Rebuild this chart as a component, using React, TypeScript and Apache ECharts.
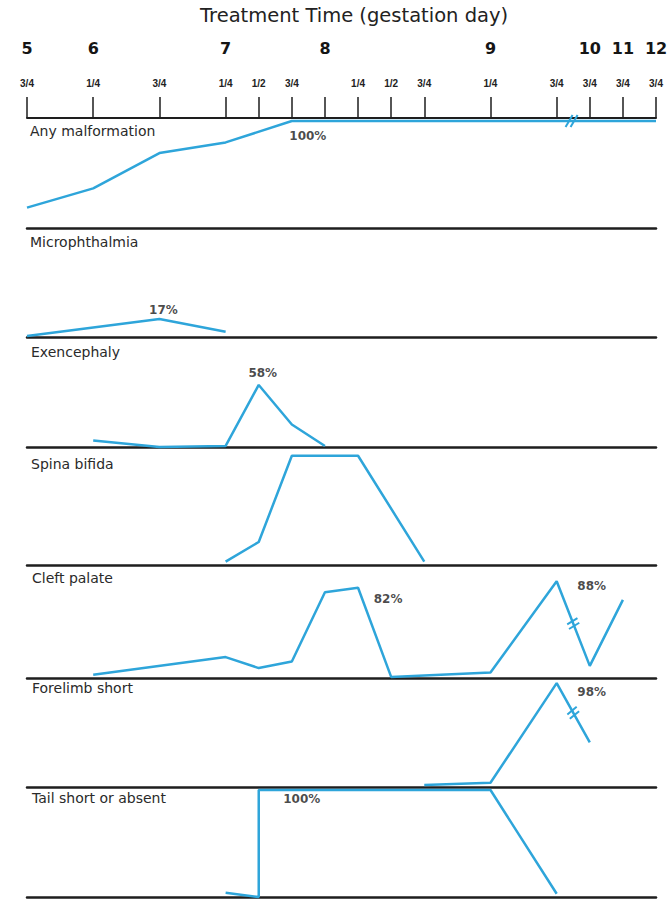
import React, { useEffect, useRef } from 'react';
import * as echarts from 'echarts';

// ---------- DATA ----------
const tickTimes = [5.75, 6.25, 6.75, 7.25, 7.5, 7.75, 8, 8.25, 8.5, 8.75, 9.25, 9.75, 10.75, 11.75, 12.75];
const fractionLabels = ['3/4', '1/4', '3/4', '1/4', '1/2', '3/4', '', '1/4', '1/2', '3/4', '1/4', '3/4', '3/4', '3/4', '3/4'];
const dayLabelTimes = [5.75, 6.25, 7.25, 8, 9.25, 10.75, 11.75, 12.75];
const dayLabels = ['5', '6', '7', '8', '9', '10', '11', '12'];

const panelNames = ['Any malformation', 'Microphthalmia', 'Exencephaly', 'Spina bifida', 'Cleft palate', 'Forelimb short', 'Tail short or absent'];

const anyTimes = [5.75, 6.25, 6.75, 7.25, 7.75, 8, 8.25, 8.5, 8.75, 9.25, 9.75, 10.75, 11.75, 12.75];
const anyValues = [19, 37, 70, 80, 100, 100, 100, 100, 100, 100, 100, 100, 100, 100];
const microTimes = [5.75, 6.75, 7.25];
const microValues = [1, 17, 5];
const exenTimes = [6.25, 6.75, 7.25, 7.5, 7.75, 8];
const exenValues = [6, 0, 1, 58, 21, 1];
const spinaTimes = [7.25, 7.5, 7.75, 8.25, 8.75];
const spinaValues = [3, 20, 95, 95, 3];
const cleftTimes = [6.25, 7.25, 7.5, 7.75, 8, 8.25, 8.5, 9.25, 9.75, 10.75, 11.75];
const cleftValues = [3, 19, 9, 15, 78, 82, 1, 5, 88, 11, 71];
const forelimbTimes = [8.75, 9.25, 9.75, 10.75];
const forelimbValues = [2, 4, 98, 42];
const tailTimes = [7.25, 7.5, 7.5, 9.25, 9.75];
const tailValues = [4, 0, 100, 100, 3];

const seriesTimes = [anyTimes, microTimes, exenTimes, spinaTimes, cleftTimes, forelimbTimes, tailTimes];
const seriesValues = [anyValues, microValues, exenValues, spinaValues, cleftValues, forelimbValues, tailValues];

// annotations: panel, time, value, text
const annPanels = [0, 1, 2, 4, 4, 5, 6];
const annTimes = [7.75, 6.75, 7.5, 8.25, 9.75, 9.75, 7.5];
const annValues = [100, 17, 58, 82, 88, 98, 100];
const annTexts = ['100%', '17%', '58%', '82%', '88%', '98%', '100%'];

// ---------- LAYOUT ----------
const W = 672;
const H = 899;
const panelTops = [118, 228, 337, 447, 565, 678, 787];
const panelBottoms = [228, 337, 447, 565, 678, 787, 897];
const panelLabelCenters = [132, 243, 353, 465, 579, 689, 799];
const panelLabelLefts = [30, 30, 31, 31, 32, 32, 32];
const annOffsets = [[16, 15], [4, -9], [4, -12], [30, 11], [35, 5], [35, 9], [43, 9]];
const topPad = 3;
const BLUE = '#2ea5da';
const INK = '#1e1e1e';
const FONT = 'DejaVu Sans';

// axis scale with break: quarter days up to 9 3/4, then one unit per day
const toUnit = (t: number) => (t <= 9.75 ? (t - 5.75) * 4 : 16 + (t - 9.75));
const breakTime = 9.75;

function buildOption() {
  const tickUnits = tickTimes.map(toUnit);
  const dayUnits = dayLabelTimes.map(toUnit);
  const find = (arr: number[], v: number) => arr.findIndex((u) => Math.abs(u - v) < 1e-6);

  const grids = panelTops.map((top, i) => ({ left: 27, right: 16, top, height: panelBottoms[i] - top }));
  const yAxes = grids.map((g, i) => ({
    gridIndex: i, type: 'value', min: 0, max: (100 * g.height) / (g.height - topPad), show: false,
  }));
  const xAxes: any[] = grids.map((g, i) => ({
    gridIndex: i, type: 'value', min: 0, max: 19, position: 'bottom',
    axisLine: { show: true, onZero: false, lineStyle: { color: INK, width: 2.5 } },
    axisTick: { show: false }, axisLabel: { show: false }, splitLine: { show: false },
  }));
  xAxes.push({
    gridIndex: 0, type: 'value', min: 0, max: 19, position: 'top',
    axisLine: { show: true, onZero: false, lineStyle: { color: INK, width: 2 } },
    axisTick: { show: true, length: 21, customValues: tickUnits, lineStyle: { color: INK, width: 1.5 } },
    axisLabel: {
      show: true, customValues: tickUnits, margin: 30,
      formatter: (v: number) => { const k = find(tickUnits, v); return k >= 0 ? fractionLabels[k] : ''; },
      fontFamily: 'Liberation Sans', fontWeight: 'bold', fontSize: 10, color: '#222',
    },
    splitLine: { show: false },
  });
  xAxes.push({
    gridIndex: 0, type: 'value', min: 0, max: 19, position: 'top',
    axisLine: { show: false }, axisTick: { show: false },
    axisLabel: {
      show: true, customValues: dayUnits, margin: 62,
      formatter: (v: number) => { const k = find(dayUnits, v); return k >= 0 ? dayLabels[k] : ''; },
      fontFamily: FONT, fontWeight: 'bold', fontSize: 16, color: '#151515',
    },
    splitLine: { show: false },
  });

  const series: any[] = [];
  seriesTimes.forEach((times, i) => {
    series.push({
      type: 'line', xAxisIndex: i, yAxisIndex: i, symbol: 'none', clip: false, silent: true, z: 3,
      lineStyle: { color: BLUE, width: 2.5 },
      data: times.map((t, k) => [toUnit(t), seriesValues[i][k]]),
    });
  });

  // break marks: top axis and the segments crossing the 9 3/4 -> 10 3/4 break
  const breakItems: any[][] = [[], [], [], [], [], [], []];
  breakItems[0].push([toUnit(breakTime), 100, toUnit(10.75), 100, 0.45, 30, 7]);
  seriesTimes.forEach((times, i) => {
    if (i === 0) return;
    const k = times.indexOf(breakTime);
    if (k >= 0 && k + 1 < times.length) {
      breakItems[i].push([toUnit(times[k]), seriesValues[i][k], toUnit(times[k + 1]), seriesValues[i][k + 1], 0.5, -10, 6]);
    }
  });
  breakItems.forEach((items, i) => {
    if (!items.length) return;
    series.push({
      type: 'custom', xAxisIndex: i, yAxisIndex: i, silent: true, z: 4, clip: false,
      data: items,
      renderItem: (params: any, api: any) => {
        const a = api.coord([api.value(0), api.value(1)]);
        const b = api.coord([api.value(2), api.value(3)]);
        const t = api.value(4);
        const tilt = (api.value(5) * Math.PI) / 180;
        const L = api.value(6);
        const dx = b[0] - a[0];
        const dy = b[1] - a[1];
        const len = Math.hypot(dx, dy) || 1;
        const ux = dx / len;
        const uy = dy / len;
        const cx = a[0] + dx * t;
        const cy = a[1] + dy * t;
        const nx = -uy;
        const ny = ux;
        const vx = nx * Math.cos(tilt) - ny * Math.sin(tilt);
        const vy = nx * Math.sin(tilt) + ny * Math.cos(tilt);
        const g = 2.5;
        return {
          type: 'group',
          children: [-1, 1].map((s) => ({
            type: 'line',
            shape: {
              x1: cx + s * ux * g - vx * L, y1: cy + s * uy * g - vy * L,
              x2: cx + s * ux * g + vx * L, y2: cy + s * uy * g + vy * L,
            },
            style: { stroke: BLUE, lineWidth: 2 },
          })),
        };
      },
    });
  });

  annTexts.forEach((text, j) => {
    const p = annPanels[j];
    series.push({
      type: 'scatter', xAxisIndex: p, yAxisIndex: p, silent: true, z: 5, symbolSize: 1,
      itemStyle: { color: 'rgba(0,0,0,0)' },
      data: [{ name: text, value: [toUnit(annTimes[j]), annValues[j]] }],
      label: {
        show: true, position: 'inside', offset: annOffsets[j], formatter: '{b}',
        fontFamily: FONT, fontWeight: 'bold', fontSize: 12, color: '#1a1a1a',
      },
    });
  });

  const titles: any[] = [{
    text: 'Treatment Time (gestation day)', left: 200, top: 5, padding: 0,
    textStyle: { fontFamily: FONT, fontSize: 19.5, fontWeight: 'normal', color: '#222' },
  }];
  panelNames.forEach((name, i) => {
    titles.push({
      text: name, left: panelLabelLefts[i], top: panelLabelCenters[i] - 8, padding: 0,
      textStyle: { fontFamily: FONT, fontSize: 14, fontWeight: 'normal', color: '#2a2a2a' },
    });
  });

  return {
    animation: false,
    backgroundColor: '#ffffff',
    title: titles,
    grid: grids,
    xAxis: xAxes,
    yAxis: yAxes,
    series,
  };
}

export default function App() {
  const ref = useRef<HTMLDivElement>(null);
  useEffect(() => {
    document.body.style.margin = '0';
    if (!ref.current) return;
    const chart = echarts.init(ref.current, undefined, { renderer: 'svg' });
    chart.setOption(buildOption() as any);
    return () => chart.dispose();
  }, []);
  return <div ref={ref} style={{ width: W, height: H, display: 'block' }} />;
}
